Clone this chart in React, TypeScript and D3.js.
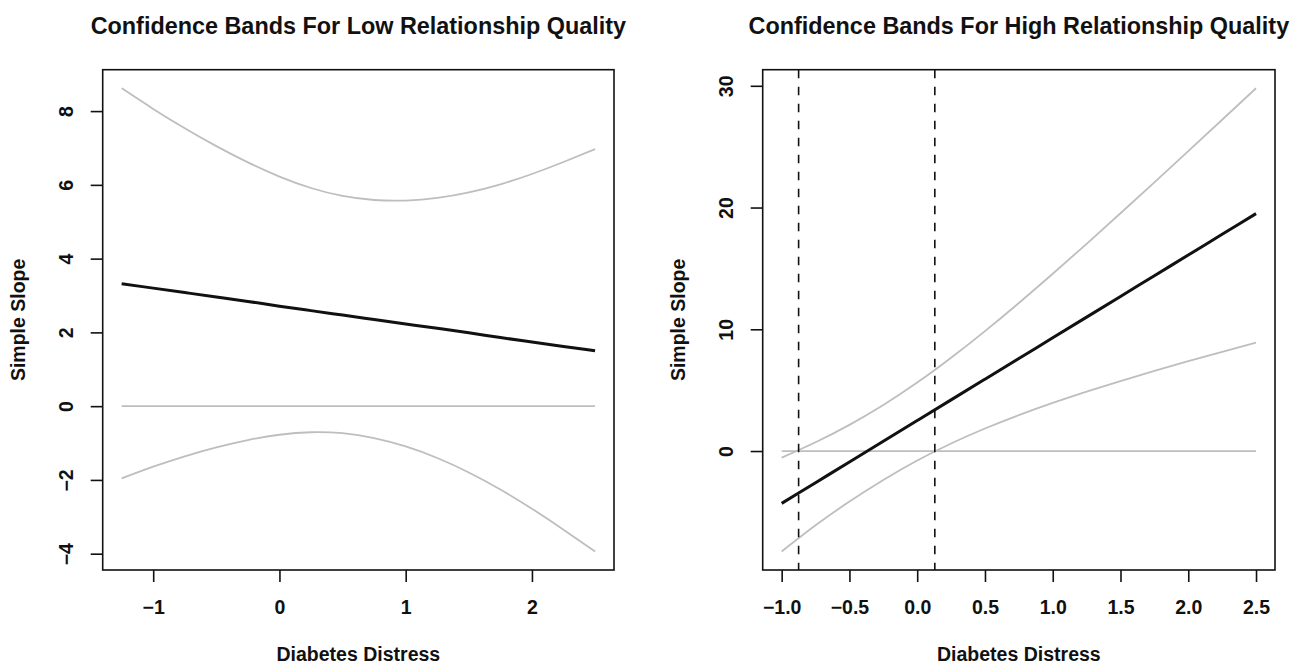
import React, { useEffect, useRef } from 'react';
import * as d3 from 'd3';

// values
const lowX = [-1.25, -1, -0.75, -0.5, -0.25, 0, 0.25, 0.5, 0.75, 1, 1.25, 1.5, 1.75, 2, 2.25, 2.5];
const lowSlope = [3.32, 3.2, 3.08, 2.96, 2.84, 2.71, 2.59, 2.47, 2.35, 2.23, 2.11, 1.99, 1.86, 1.74, 1.62, 1.5];
const lowUpper = [8.62, 8.06, 7.535, 7.05, 6.61, 6.225, 5.915, 5.7, 5.59, 5.575, 5.645, 5.795, 6.015, 6.295, 6.62, 6.97];
const lowLower = [-1.96, -1.642, -1.359, -1.116, -0.918, -0.775, -0.707, -0.734, -0.866, -1.093, -1.405, -1.797, -2.259, -2.781, -3.348, -3.94];

const highX = [-1, -0.75, -0.5, -0.25, 0, 0.25, 0.5, 0.75, 1, 1.25, 1.5, 1.75, 2, 2.25, 2.5];
const highSlope = [-4.3, -2.6, -0.9, 0.8, 2.5, 4.2, 5.9, 7.6, 9.3, 11.0, 12.7, 14.4, 16.1, 17.8, 19.5];
const highUpper = [-0.55, 0.72, 2.15, 3.78, 5.62, 7.66, 9.85, 12.16, 14.56, 17.02, 19.53, 22.07, 24.63, 27.21, 29.8];
const highLower = [-8.25, -6.1, -4.15, -2.38, -0.78, 0.62, 1.85, 2.95, 3.95, 4.88, 5.75, 6.58, 7.38, 8.15, 8.9];
const highRegion = [-0.875, 0.13];

const lowXTicks = [-1, 0, 1, 2];
const lowYTicks = [-4, -2, 0, 2, 4, 6, 8];
const highXTicks = [-1, -0.5, 0, 0.5, 1, 1.5, 2, 2.5];
const highYTicks = [0, 10, 20, 30];

const titles = ['Confidence Bands For Low Relationship Quality', 'Confidence Bands For High Relationship Quality'];
const xTitle = 'Diabetes Distress';
const yTitle = 'Simple Slope';

const W = 1298;
const H = 665;
const FONT = '"Liberation Sans", Arial, Helvetica, sans-serif';
const GRAY = '#bebebe';

const App = () => {
  const svgRef = useRef<SVGSVGElement>(null);

  useEffect(() => {
    const svg = d3.select(svgRef.current);
    svg.selectAll('*').remove();

    const panels = [
      { left: 102.7, right: 614, x: lowX, s: lowSlope, up: lowUpper, lo: lowLower, xt: lowXTicks, yt: lowYTicks, xf: d3.format('d'), yf: d3.format('d'), vlines: [] as number[] },
      { left: 762.7, right: 1275, x: highX, s: highSlope, up: highUpper, lo: highLower, xt: highXTicks, yt: highYTicks, xf: d3.format('.1f'), yf: d3.format('d'), vlines: highRegion },
    ];
    const top = 69.7;
    const bottom = 570;

    panels.forEach((p, i) => {
      const g = svg.append('g');
      const [x0, x1] = d3.extent(p.x) as [number, number];
      const allY = [...p.up, ...p.lo, ...p.s];
      const y0 = d3.min(allY)!;
      const y1 = d3.max(allY)!;
      const px = (x1 - x0) * 0.04;
      const py = (y1 - y0) * 0.04;

      const x = d3.scaleLinear().domain([x0 - px, x1 + px]).range([p.left, p.right]);
      const y = d3.scaleLinear().domain([y0 - py, y1 + py]).range([bottom, top]);

      const line = d3.line<number>()
        .x((_, j) => x(p.x[j]))
        .y(d => y(d))
        .curve(d3.curveNatural);

      // zero reference line
      g.append('line')
        .attr('x1', x(x0)).attr('x2', x(x1))
        .attr('y1', y(0)).attr('y2', y(0))
        .attr('stroke', GRAY).attr('stroke-width', 1.8);

      g.append('path').attr('d', line(p.up)).attr('fill', 'none').attr('stroke', GRAY).attr('stroke-width', 1.8);
      g.append('path').attr('d', line(p.lo)).attr('fill', 'none').attr('stroke', GRAY).attr('stroke-width', 1.8);
      g.append('path').attr('d', line(p.s)).attr('fill', 'none').attr('stroke', '#111').attr('stroke-width', 3);

      p.vlines.forEach(v => {
        g.append('line')
          .attr('x1', x(v)).attr('x2', x(v))
          .attr('y1', top).attr('y2', bottom)
          .attr('stroke', '#111').attr('stroke-width', 1.6)
          .attr('stroke-dasharray', '8.5,8.5');
      });

      // box
      g.append('rect')
        .attr('x', p.left).attr('y', top)
        .attr('width', p.right - p.left).attr('height', bottom - top)
        .attr('fill', 'none').attr('stroke', '#111').attr('stroke-width', 1.6);

      // x axis
      const xAxis = d3.axisBottom(x).tickValues(p.xt).tickSize(12).tickFormat(d => p.xf(d as number));
      const xg = g.append('g').attr('transform', `translate(0,${bottom})`).call(xAxis);
      xg.select('.domain').remove();
      xg.selectAll('line').attr('stroke', '#111').attr('stroke-width', 1.6);
      xg.selectAll('text')
        .attr('y', 44).attr('dy', 0)
        .attr('fill', '#111')
        .style('font-family', FONT).style('font-size', '19.5px').style('font-weight', 'bold');

      // y axis
      const yAxis = d3.axisLeft(y).tickValues(p.yt).tickSize(12).tickFormat(d => p.yf(d as number));
      const yg = g.append('g').attr('transform', `translate(${p.left},0)`).call(yAxis);
      yg.select('.domain').remove();
      yg.selectAll('line').attr('stroke', '#111').attr('stroke-width', 1.6);
      yg.selectAll('text')
        .attr('transform', 'rotate(-90)')
        .attr('x', 0).attr('y', -30).attr('dy', 0)
        .attr('text-anchor', 'middle')
        .attr('fill', '#111')
        .style('font-family', FONT).style('font-size', '19.5px').style('font-weight', 'bold');

      const cx = (p.left + p.right) / 2;
      const cy = (top + bottom) / 2;

      g.append('text')
        .attr('x', cx).attr('y', 34)
        .attr('text-anchor', 'middle')
        .attr('fill', '#111')
        .style('font-family', FONT).style('font-size', '23.4px').style('font-weight', 'bold')
        .text(titles[i]);

      g.append('text')
        .attr('x', cx).attr('y', 661)
        .attr('text-anchor', 'middle')
        .attr('fill', '#111')
        .style('font-family', FONT).style('font-size', '19.5px').style('font-weight', 'bold')
        .text(xTitle);

      g.append('text')
        .attr('transform', `translate(${p.left - 78},${cy}) rotate(-90)`)
        .attr('text-anchor', 'middle')
        .attr('fill', '#111')
        .style('font-family', FONT).style('font-size', '19.5px').style('font-weight', 'bold')
        .text(yTitle);
    });
  }, []);

  return (
    <svg
      ref={svgRef}
      width={W}
      height={H}
      style={{ position: 'absolute', left: 0, top: 0, display: 'block', background: '#fff' }}
    />
  );
};

export default App;
